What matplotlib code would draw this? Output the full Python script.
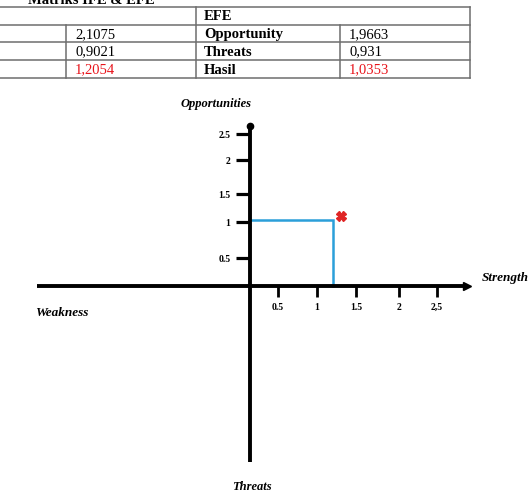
import numpy as np
import matplotlib
matplotlib.use("Agg")
import matplotlib.pyplot as plt
from matplotlib import transforms

# ---------------- data ----------------
title = "Matriks IFE & EFE"
efe_header = "EFE"
ife_values = ["2,1075", "0,9021", "1,2054"]
efe_labels = ["Opportunity", "Threats", "Hasil"]
efe_values = ["1,9663", "0,931", "1,0353"]
value_colors = ["black", "black", "#e8141b"]

ife_result = 1.2054   # Strength axis
efe_result = 1.0353   # Opportunities axis

tick_values = [0.5, 1, 1.5, 2, 2.5]
x_ticklabels = ["0.5", "1", "1.5", "2", "2,5"]
y_ticklabels = ["0.5", "1", "1.5", "2", "2.5"]
label_right = "Strength"
label_left = "Weakness"
label_top = "Opportunities"
label_bottom = "Threats"

# ---------------- figure ----------------
W, H = 529, 492
fig = plt.figure(figsize=(W / 100, H / 100), dpi=100)

# hand-drawn (non uniform) scale, piecewise linear
knots = [-6, 0, 0.5, 1, 1.5, 2, 2.5, 6]
x_px = [-450, 0, 28, 67, 106, 149, 187, 450]
y_px = [-366, 0, 28, 64, 92, 126, 152, 366]

def fx(v):
    return np.interp(v, knots, x_px)

def ix(p):
    return np.interp(p, x_px, knots)

def fy(v):
    return np.interp(v, knots, y_px)

def iy(p):
    return np.interp(p, y_px, knots)

left_px, right_px, top_px, bottom_px = 37, 467, 126, 462
ax = fig.add_axes([left_px / W, 1 - bottom_px / H,
                   (right_px - left_px) / W, (bottom_px - top_px) / H])
ax.set_xscale("function", functions=(fx, ix))
ax.set_yscale("function", functions=(fy, iy))
ax.set_xlim(ix(left_px - 250), ix(right_px - 250))
ax.set_ylim(iy(286 - bottom_px), iy(286 - top_px))

for s in ["top", "right"]:
    ax.spines[s].set_visible(False)
for s in ["left", "bottom"]:
    ax.spines[s].set_position(("data", 0))
    ax.spines[s].set_linewidth(2.8)
    ax.spines[s].set_capstyle("butt")

ax.set_xticks(tick_values, x_ticklabels)
ax.set_yticks(tick_values, y_ticklabels)
ax.minorticks_off()
ax.tick_params(axis="x", direction="out", length=8, width=2.0, pad=4, labelsize=7)
ax.tick_params(axis="y", direction="out", length=10, width=2.3, pad=4, labelsize=7)
for lab in ax.get_xticklabels() + ax.get_yticklabels():
    lab.set_fontfamily("Liberation Serif")
    lab.set_fontweight("bold")

# arrow heads
ax.plot(1, 0, ">", color="black", ms=6, transform=ax.get_yaxis_transform(), clip_on=False)
ax.plot(0, 1, "o", color="black", ms=4.5, transform=ax.get_xaxis_transform(), clip_on=False)

# result lines
ax.plot([0, ife_result, ife_result], [efe_result, efe_result, 0],
        color="#2b9fd9", lw=1.8, solid_joinstyle="miter")
off = transforms.ScaledTranslation(0.08, 0.04, fig.dpi_scale_trans)
ax.plot(ife_result, efe_result, marker="X", color="#e02424", ms=7,
        transform=ax.transData + off, clip_on=False)

# ---------------- overlay in pixel coordinates ----------------
tax = fig.add_axes([0, 0, 1, 1])
tax.set_xlim(0, W)
tax.set_ylim(H, 0)
tax.axis("off")

grid_c = "#6e6e6e"
row_y = [7, 25, 42, 60, 78]
col_x = [66, 196, 340, 470]
for y in row_y:
    tax.plot([-5, col_x[-1]], [y, y], color=grid_c, lw=1.1)
for x in [col_x[1], col_x[3]]:
    tax.plot([x, x], [row_y[0], row_y[-1]], color=grid_c, lw=1.1)
for x in [col_x[0], col_x[2]]:
    tax.plot([x, x], [row_y[1], row_y[-1]], color=grid_c, lw=1.1)

serif = "Liberation Serif"
tax.text(28, 4.5, title, fontfamily=serif, fontweight="bold", fontsize=10.5,
         va="baseline", ha="left")
tax.text(col_x[1] + 8, (row_y[0] + row_y[1]) / 2 + 1, efe_header, fontfamily=serif,
         fontweight="bold", fontsize=10.5, va="center", ha="left")
for i in range(3):
    yc = (row_y[i + 1] + row_y[i + 2]) / 2 + 1
    tax.text(col_x[0] + 9, yc, ife_values[i], fontfamily=serif, fontsize=10.5,
             va="center", ha="left", color=value_colors[i])
    tax.text(col_x[1] + 8, yc, efe_labels[i], fontfamily=serif, fontweight="bold",
             fontsize=10.5, va="center", ha="left")
    tax.text(col_x[2] + 9, yc, efe_values[i], fontfamily=serif, fontsize=10.5,
             va="center", ha="left", color=value_colors[i])

tax.text(216, 104, label_top, fontfamily=serif, style="italic", fontweight="bold",
         fontsize=9, ha="center", va="center")
tax.text(482, 278, label_right, fontfamily=serif, style="italic", fontweight="bold",
         fontsize=9.5, ha="left", va="center")
tax.text(35, 313, label_left, fontfamily=serif, style="italic", fontweight="bold",
         fontsize=9.5, ha="left", va="center")
tax.text(252, 487, label_bottom, fontfamily=serif, style="italic", fontweight="bold",
         fontsize=9, ha="center", va="center")

fig.savefig("out.png", dpi=100)
